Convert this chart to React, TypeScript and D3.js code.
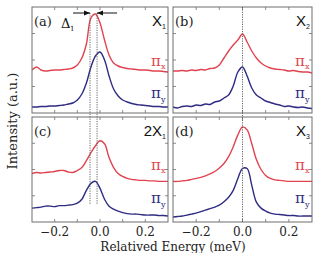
import React from 'react';
import * as d3 from 'd3';

// Relative energy grid (meV) shared by every spectrum
const energy = [
  -0.30, -0.28, -0.26, -0.24, -0.22, -0.20, -0.18, -0.16, -0.14, -0.12, -0.10,
  -0.08, -0.06, -0.04, -0.02, 0.00, 0.02, 0.04, 0.06, 0.08, 0.10,
  0.12, 0.14, 0.16, 0.18, 0.20, 0.22, 0.24, 0.26, 0.28, 0.30,
];

// X1 spectra
const x1PiX = [4.3, 4.6, 4.3, 4.2, 4.25, 4.3, 4.3, 4.35, 4.4, 4.5, 4.8, 5.5, 6.9, 9.5, 9.9, 9.0, 7.3, 5.8, 5.0, 4.7, 4.55, 4.45, 4.4, 4.35, 4.3, 4.3, 4.25, 4.2, 4.2, 4.15, 4.1];
const x1PiY = [0.6, 0.6, 0.65, 0.65, 0.7, 0.7, 0.75, 0.8, 0.9, 1.0, 1.3, 1.9, 3.0, 4.6, 5.7, 6.1, 5.3, 3.7, 2.4, 1.7, 1.3, 1.1, 0.95, 0.85, 0.8, 0.75, 0.7, 0.65, 0.65, 0.6, 0.6];

// X2 spectra
const x2PiX = [4.2, 4.2, 4.25, 4.2, 4.3, 4.25, 4.35, 4.3, 4.45, 4.5, 4.8, 5.5, 6.2, 6.8, 7.3, 7.9, 7.1, 6.2, 5.5, 5.0, 4.7, 4.5, 4.4, 4.35, 4.3, 4.2, 4.25, 4.15, 4.1, 4.1, 4.0];
const x2PiY = [0.6, 0.5, 0.65, 0.7, 0.65, 0.8, 0.75, 0.9, 0.85, 1.1, 1.2, 1.5, 1.8, 2.7, 4.1, 4.6, 3.7, 2.5, 1.8, 1.5, 1.2, 1.05, 0.9, 0.8, 0.65, 0.7, 0.6, 0.55, 0.6, 0.5, 0.45];

// 2X1 spectra
const xx1PiX = [4.9, 5.0, 4.95, 5.0, 5.05, 5.1, 5.2, 5.2, 5.05, 5.0, 5.2, 5.5, 6.2, 7.0, 7.7, 8.2, 7.9, 6.5, 5.5, 4.9, 4.6, 4.4, 4.3, 4.25, 4.2, 4.2, 4.15, 4.15, 4.1, 4.1, 4.1];
const xx1PiY = [1.4, 1.45, 1.5, 1.6, 1.6, 1.55, 1.65, 1.65, 1.7, 1.75, 1.9, 2.3, 3.2, 3.9, 4.1, 3.4, 2.3, 1.6, 1.3, 1.1, 0.95, 0.85, 0.8, 0.8, 0.75, 0.7, 0.7, 0.7, 0.65, 0.65, 0.6];

// X3 spectra
const x3PiX = [4.1, 4.1, 4.15, 4.2, 4.3, 4.4, 4.5, 4.65, 4.85, 5.1, 5.45, 5.9, 6.6, 7.6, 8.8, 9.6, 9.3, 7.9, 6.3, 5.3, 4.7, 4.4, 4.25, 4.2, 4.15, 4.1, 4.1, 4.1, 4.1, 4.1, 4.1];
const x3PiY = [0.5, 0.55, 0.6, 0.7, 0.8, 0.9, 1.05, 1.2, 1.35, 1.5, 1.7, 2.05, 2.5, 3.2, 4.4, 5.4, 5.4, 3.7, 2.0, 1.4, 1.1, 0.9, 0.8, 0.75, 0.7, 0.65, 0.65, 0.6, 0.6, 0.6, 0.6];

// Peak positions marked by dotted guides (meV)
const splitMarks = [-0.044, -0.013];
const centerMark = [0.0];

const xTickLabels = [-0.2, 0.0, 0.2];
const xMinorTicks = [-0.2, -0.1, 0.0, 0.1, 0.2];
const yMinorTicks = [2.65, 5.3, 7.95];

const RED = '#e0434f';
const BLUE = '#2e2b82';
const FRAME = '#6e6e6e';

const W = 317;
const H = 253;
const cols = [[32, 168], [173, 312]];
const rows = [[7, 113], [117, 222]];

interface Panel {
  tag: string;
  exciton: string;
  sub: string;
  col: number;
  row: number;
  red: number[];
  blue: number[];
  redLabelY: number;
  blueLabelY: number;
}

const panels: Panel[] = [
  { tag: '(a)', exciton: 'X', sub: '1', col: 0, row: 0, red: x1PiX, blue: x1PiY, redLabelY: 66, blueLabelY: 98 },
  { tag: '(b)', exciton: 'X', sub: '2', col: 1, row: 0, red: x2PiX, blue: x2PiY, redLabelY: 66, blueLabelY: 98 },
  { tag: '(c)', exciton: '2X', sub: '1', col: 0, row: 1, red: xx1PiX, blue: xx1PiY, redLabelY: 170, blueLabelY: 203 },
  { tag: '(d)', exciton: 'X', sub: '3', col: 1, row: 1, red: x3PiX, blue: x3PiY, redLabelY: 170, blueLabelY: 203 },
];

const serif: React.CSSProperties = { fontFamily: "'DejaVu Serif', 'Liberation Serif', serif" };
const sans: React.CSSProperties = { fontFamily: "'Liberation Sans', Arial, sans-serif" };

const SpectraPanel: React.FC<{ p: Panel }> = ({ p }) => {
  const [x0, x1] = cols[p.col];
  const [y0, y1] = rows[p.row];
  const x = d3.scaleLinear().domain([-0.3, 0.3]).range([x0, x1]);
  const y = d3.scaleLinear().domain([0, 10.6]).range([y1, y0]);
  const line = d3.line<number>()
    .x((_, i) => x(energy[i]))
    .y(d => y(d))
    .curve(d3.curveCatmullRom.alpha(0.5));

  return (
    <g>
      <defs>
        <clipPath id={`clip-${p.col}-${p.row}`}>
          <rect x={x0} y={y0} width={x1 - x0} height={y1 - y0} />
        </clipPath>
      </defs>
      <g clipPath={`url(#clip-${p.col}-${p.row})`}>
        <path d={line(p.red) ?? ''} fill="none" stroke={RED} strokeWidth={1.4} strokeLinejoin="round" />
        <path d={line(p.blue) ?? ''} fill="none" stroke={BLUE} strokeWidth={1.4} strokeLinejoin="round" />
      </g>
      <rect x={x0} y={y0} width={x1 - x0} height={y1 - y0} fill="none" stroke={FRAME} strokeWidth={1} />
      {xMinorTicks.map(t => (
        <g key={`xt${t}`} stroke={FRAME} strokeWidth={0.8}>
          <line x1={x(t)} x2={x(t)} y1={y1} y2={y1 - 3} />
          <line x1={x(t)} x2={x(t)} y1={y0} y2={y0 + 3} />
        </g>
      ))}
      {yMinorTicks.map(t => (
        <g key={`yt${t}`} stroke={FRAME} strokeWidth={0.8}>
          <line x1={x0} x2={x0 + 3} y1={y(t)} y2={y(t)} />
          <line x1={x1} x2={x1 - 3} y1={y(t)} y2={y(t)} />
        </g>
      ))}
      <text x={x0 + 2} y={y0 + 19} style={serif} fontSize={13} fill="#222">{p.tag}</text>
      <text x={x1 - 6} y={y0 + 19} style={sans} fontSize={15} fill="#111" textAnchor="end">{p.exciton}</text>
      <text x={x1 - 6} y={y0 + 22} style={sans} fontSize={7} fill="#111">{p.sub}</text>
      <text x={x1 - 17} y={p.redLabelY} style={serif} fontSize={15} fill={RED}>π</text>
      <text x={x1 - 7} y={p.redLabelY + 3} style={serif} fontSize={8} fill={RED}>x</text>
      <text x={x1 - 17} y={p.blueLabelY} style={serif} fontSize={15} fill={BLUE}>π</text>
      <text x={x1 - 7} y={p.blueLabelY + 4} style={serif} fontSize={8} fill={BLUE}>y</text>
    </g>
  );
};

export default function App() {
  const xl = d3.scaleLinear().domain([-0.3, 0.3]).range(cols[0]);
  const xr = d3.scaleLinear().domain([-0.3, 0.3]).range(cols[1]);
  const fmt = d3.format('.1f');
  const arrowY = 13;

  return (
    <div style={{ position: 'absolute', left: 0, top: 0 }}>
      <svg width={W} height={H} style={{ display: 'block', background: '#fff' }}>
        <defs>
          <marker id="arrowhead" viewBox="0 0 10 10" refX="10" refY="5" markerWidth="6" markerHeight="6" orient="auto">
            <path d="M0,1 L10,5 L0,9 z" fill="#111" />
          </marker>
        </defs>
        {panels.map(p => <SpectraPanel key={p.tag} p={p} />)}

        {/* dotted guides through the peak positions */}
        {splitMarks.map(m => (
          <line key={`s${m}`} x1={xl(m)} x2={xl(m)} y1={arrowY} y2={205}
            stroke="#555" strokeWidth={0.9} strokeDasharray="1.2,1.2" />
        ))}
        {centerMark.map(m => (
          <line key={`c${m}`} x1={xr(m)} x2={xr(m)} y1={rows[0][0]} y2={rows[1][1]}
            stroke="#555" strokeWidth={0.9} strokeDasharray="1.2,1.2" />
        ))}

        {/* splitting arrows */}
        <line x1={xl(splitMarks[0]) - 17} x2={xl(splitMarks[0])} y1={arrowY} y2={arrowY}
          stroke="#111" strokeWidth={1} markerEnd="url(#arrowhead)" />
        <line x1={xl(splitMarks[1]) + 20} x2={xl(splitMarks[1])} y1={arrowY} y2={arrowY}
          stroke="#111" strokeWidth={1} markerEnd="url(#arrowhead)" />
        <text x={61} y={28} style={serif} fontSize={13} fill="#111">Δ</text>
        <text x={70} y={31} style={serif} fontSize={7} fill="#111">1</text>

        {/* bottom tick labels */}
        {xTickLabels.map(t => (
          <g key={`lab${t}`} style={serif} fontSize={12} fill="#222" textAnchor="middle">
            <text x={xl(t)} y={236}>{fmt(t)}</text>
            <text x={xr(t)} y={236}>{fmt(t)}</text>
          </g>
        ))}

        <text x={173} y={251} style={serif} fontSize={12} fill="#222" textAnchor="middle">
          Relatived Energy (meV)
        </text>
        <text transform="translate(17,121) rotate(-90)" style={serif} fontSize={13} fill="#222" textAnchor="middle">
          Intensity (a.u.)
        </text>
      </svg>
    </div>
  );
}
